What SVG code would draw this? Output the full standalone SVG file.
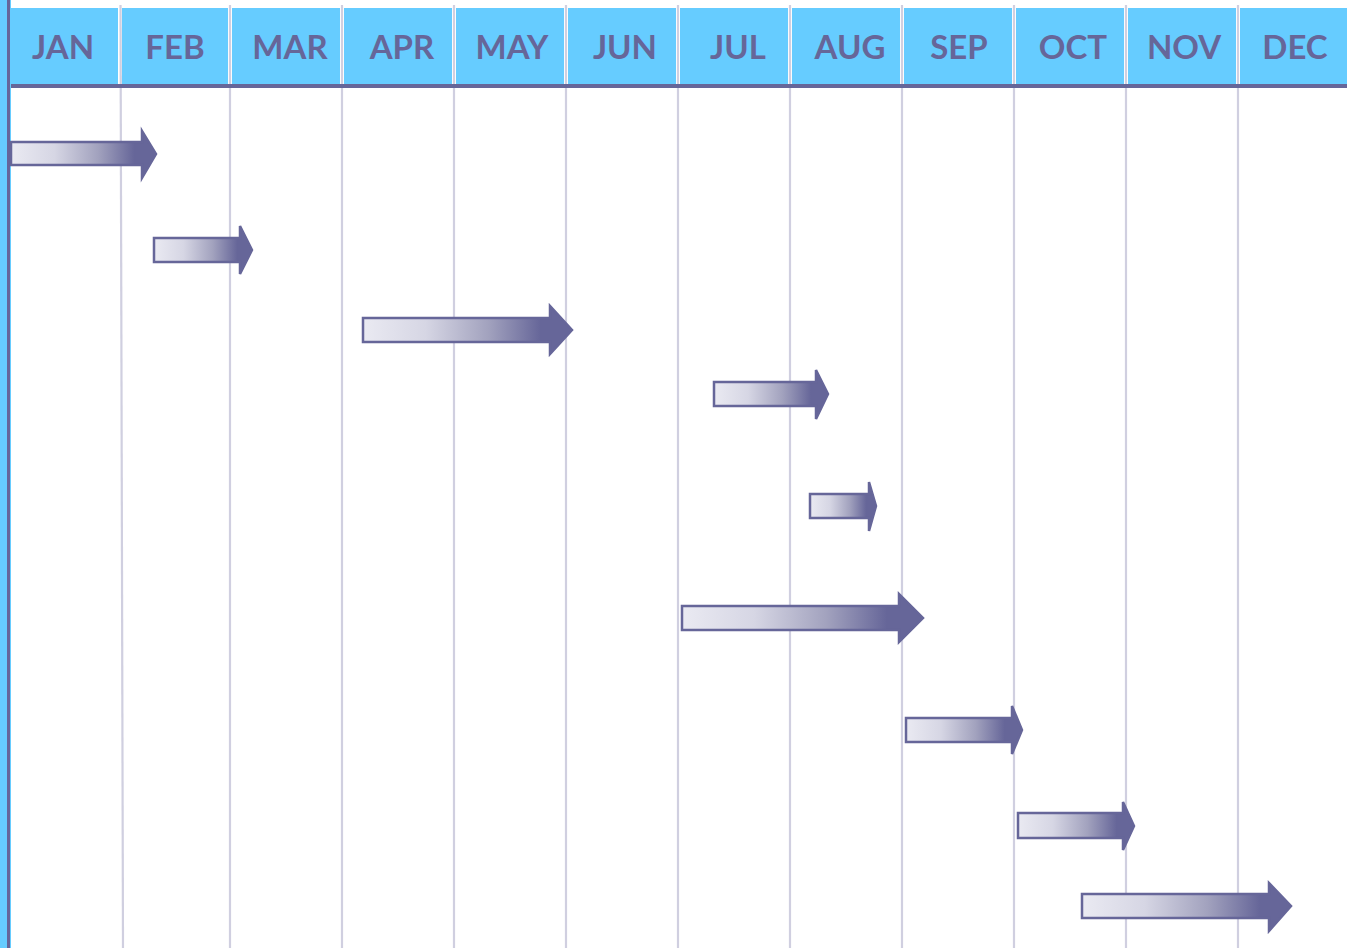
<svg xmlns="http://www.w3.org/2000/svg" width="1347" height="948" viewBox="0 0 1347 948">
<style>
.hdr{fill:#66CCFF}
.mon{font-family:Lato,"Liberation Sans",Arial,sans-serif;font-weight:bold;font-size:33px;fill:#666699;text-anchor:middle}
.grid{stroke:#D0CFE0;stroke-width:2.2}
.gap{stroke:#FFFFFF;stroke-width:4}
.arr{fill:url(#g);stroke:#666699;stroke-width:2.5;stroke-linejoin:miter}
</style>
<defs>
<linearGradient id="g" x1="0" y1="0" x2="1" y2="0">
<stop offset="0" stop-color="#EAEAF2"/>
<stop offset="0.3" stop-color="#D6D6E4"/>
<stop offset="0.6" stop-color="#A2A2BE"/>
<stop offset="0.85" stop-color="#666699"/>
<stop offset="1" stop-color="#666699"/>
</linearGradient>
</defs>
<rect width="1347" height="948" fill="#FFFFFF"/>
<g id="header">
<rect class="hdr" x="0" y="8" width="1347" height="77"/>
<rect x="0" y="0" width="11" height="948" fill="#66CCFF"/>
<g class="gap">
<line x1="120" y1="8" x2="120" y2="84"/>
<line x1="230" y1="8" x2="230" y2="84"/>
<line x1="342" y1="8" x2="342" y2="84"/>
<line x1="454" y1="8" x2="454" y2="84"/>
<line x1="566" y1="8" x2="566" y2="84"/>
<line x1="678" y1="8" x2="678" y2="84"/>
<line x1="790" y1="8" x2="790" y2="84"/>
<line x1="902" y1="8" x2="902" y2="84"/>
<line x1="1014" y1="8" x2="1014" y2="84"/>
<line x1="1126" y1="8" x2="1126" y2="84"/>
<line x1="1238" y1="8" x2="1238" y2="84"/>
</g>
</g>
<g id="gridlines" class="grid">
<line x1="120.5" y1="5" x2="123" y2="948"/>
<line x1="230" y1="5" x2="230" y2="948"/>
<line x1="342" y1="5" x2="342" y2="948"/>
<line x1="454" y1="5" x2="454" y2="948"/>
<line x1="566" y1="5" x2="566" y2="948"/>
<line x1="678" y1="5" x2="678" y2="948"/>
<line x1="790" y1="5" x2="790" y2="948"/>
<line x1="902" y1="5" x2="902" y2="948"/>
<line x1="1014" y1="5" x2="1014" y2="948"/>
<line x1="1126" y1="5" x2="1126" y2="948"/>
<line x1="1238" y1="5" x2="1238" y2="948"/>
</g>
<rect x="11" y="84" width="1336" height="4" fill="#666699"/>
<rect x="7" y="0" width="3" height="948" fill="#666699"/>
<g id="months">
<text class="mon" x="63" y="59">JAN</text>
<text class="mon" x="175" y="59">FEB</text>
<text class="mon" x="290" y="59">MAR</text>
<text class="mon" x="402" y="59">APR</text>
<text class="mon" x="512" y="59">MAY</text>
<text class="mon" x="625" y="59">JUN</text>
<text class="mon" x="738" y="59">JUL</text>
<text class="mon" x="850" y="59">AUG</text>
<text class="mon" x="959" y="59">SEP</text>
<text class="mon" x="1073" y="59">OCT</text>
<text class="mon" x="1184" y="59">NOV</text>
<text class="mon" x="1295" y="59">DEC</text>
</g>
<g id="arrows">
<path id="a1" class="arr" d="M11,142 L142,142 L142,131 L156,154 L142,178 L142,165 L11,165 Z"/>
<path id="a2" class="arr" d="M154,238 L240,238 L240,226 L252,250 L240,274 L240,262 L154,262 Z"/>
<path id="a3" class="arr" d="M363,318 L550,318 L550,306 L572,330 L550,354 L550,342 L363,342 Z"/>
<path id="a4" class="arr" d="M714,382 L816,382 L816,370 L828,394 L816,419 L816,406 L714,406 Z"/>
<path id="a5" class="arr" d="M810,494 L869,494 L869,482 L876,506 L869,531 L869,518 L810,518 Z"/>
<path id="a6" class="arr" d="M682,606 L899,606 L899,594 L923,618 L899,642 L899,630 L682,630 Z"/>
<path id="a7" class="arr" d="M906,718 L1012,718 L1012,706 L1022,730 L1012,754 L1012,742 L906,742 Z"/>
<path id="a8" class="arr" d="M1018,813 L1123,813 L1123,802 L1134,826 L1123,850 L1123,838 L1018,838 Z"/>
<path id="a9" class="arr" d="M1082,894 L1269,894 L1269,883 L1291,906 L1269,931 L1269,918 L1082,918 Z"/>
</g>
</svg>
